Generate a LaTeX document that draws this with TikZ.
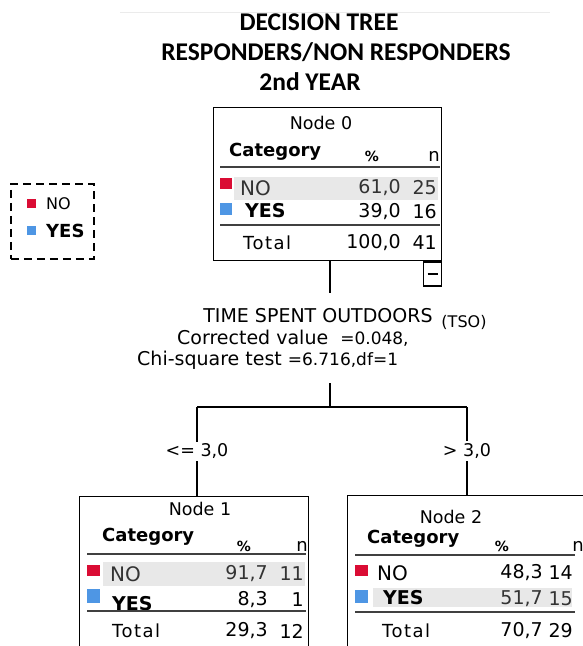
\documentclass[tikz,border=0pt]{standalone}
\usepackage{fontspec}
\setmainfont{DejaVu Sans}
\newfontfamily\titlefont{Carlito}
\definecolor{nored}{RGB}{218,12,52}
\definecolor{yesblue}{RGB}{78,150,228}
\definecolor{bandgray}{RGB}{232,232,232}
\tikzset{
  ttl/.style={font=\titlefont\bfseries\fontsize{25.5}{28}\selectfont, inner sep=0},
  tbox/.style={draw, line width=1.3pt, inner sep=0, anchor=north west},
  hdr/.style={font=\fontsize{17.5}{20}\selectfont, inner sep=0},
  nhdr/.style={font=\fontsize{18}{20}\selectfont, inner sep=0},
  cat/.style={font=\bfseries\fontsize{18}{21}\selectfont, anchor=west, inner sep=0},
  pct/.style={font=\bfseries\fontsize{14}{16}\selectfont, inner sep=0},
  cell/.style={font=\fontsize{19}{22}\selectfont, anchor=east, inner sep=0},
  lbl/.style={font=\fontsize{20}{23}\selectfont, anchor=west, inner sep=0},
  blbl/.style={font=\bfseries\fontsize{19}{22}\selectfont, anchor=west, inner sep=0},
  tot/.style={font=\addfontfeatures{LetterSpace=8}\fontsize{18}{21}\selectfont, anchor=west, inner sep=0},
  sep/.style={line width=2pt, black!75},
  band/.style={fill=bandgray},
  redsq/.style={fill=nored},
  bluesq/.style={fill=yesblue},
  conn/.style={line width=1.3pt},
  split/.style={font=\fontsize{19}{22}\selectfont, inner sep=0},
  cut/.style={font=\fontsize{17.5}{20}\selectfont, fill=white, inner sep=2pt},
}
\begin{document}
\begin{tikzpicture}[x=1pt,y=-1pt]
\useasboundingbox (0,0) rectangle (583,646);
\clip (0,0) rectangle (583,646);

% faint top rule
\draw[black!8, line width=1pt] (120,12) -- (550,12);

% title
\node[ttl] (t1) at (319,22) {DECISION TREE};
\node[ttl] (t2) at (336,52) {RESPONDERS/NON RESPONDERS};
\node[ttl] (t3) at (310,82) {2nd YEAR};

% legend
\node[draw, dashed, dash pattern=on 8pt off 5pt, line width=1.5pt, minimum width=83pt, minimum height=75pt, anchor=north west, inner sep=0] (leg) at (10,183) {};
\fill[redsq] (27,199) rectangle (36,208);
\node[lbl, font=\fontsize{16}{18}\selectfont] (legno) at (46,204) {NO};
\fill[bluesq] (27,226) rectangle (36,235);
\node[blbl, font=\bfseries\fontsize{18}{20}\selectfont] (legyes) at (46,231) {YES};

% ---------- Node 0 ----------
\fill[band] (234,177) rectangle (438,200);
\node[tbox, minimum width=228pt, minimum height=153pt] (n0) at (213,107) {};
\node[hdr] (n0t) at (321,123) {Node 0};
\node[cat] (n0c) at (229,152) {Category};
\node[pct] (n0p) at (372,156) {\%};
\node[nhdr] (n0n) at (434,156) {n};
\draw[sep] (220,167) -- (440,167);
\fill[redsq] (220,178) rectangle (232,189);
\node[lbl, text=black!80] (n0no) at (240,188) {NO};
\node[cell, text=black!80] (n0a1) at (401,188) {61,0};
\node[cell, text=black!80] (n0a2) at (437,188) {25};
\fill[bluesq] (220,203) rectangle (232,215);
\node[blbl] (n0yes) at (245,211) {YES};
\node[cell] (n0b1) at (401,212) {39,0};
\node[cell] (n0b2) at (437,212) {16};
\draw[sep] (220,225) -- (440,225);
\node[tot] (n0tot) at (243,243) {Total};
\node[cell] (n0c1) at (401,243) {100,0};
\node[cell] (n0c2) at (437,243) {41};
\node[draw, line width=1.3pt, minimum width=18pt, minimum height=24pt, anchor=north east, inner sep=0] (mb) at (n0.south east) {};
\draw[line width=1.5pt] ([xshift=-5pt]mb.center) -- ([xshift=5pt]mb.center);

% split text
\node[split] (sp1) at (318,316) {TIME SPENT OUTDOORS};
\node[font=\fontsize{16}{18}\selectfont, inner sep=0] (tso) at (464,322) {(TSO)};
\node[split, anchor=west] (sp2) at (177,338) {Corrected value\ \ {\fontsize{17}{20}\selectfont =0.048,}};
\node[split, anchor=west] (sp3) at (137,360) {Chi-square test {\fontsize{17}{20}\selectfont =6.716,df=1}};

% connectors
\coordinate (j0) at (330,260);
\coordinate (j1) at (330,293);
\coordinate (j2) at (330,383);
\coordinate (j3) at (330,407);
\coordinate (jl) at (197,407);
\coordinate (jr) at (467,407);

% ---------- Node 1 ----------
\fill[band] (103,562) rectangle (305,586);
\node[tbox, minimum width=229pt, minimum height=200pt] (n1) at (79,496) {};
\node[hdr] (n1t) at (200,509) {Node 1};
\node[cat] (n1c) at (102,537) {Category};
\node[pct] (n1p) at (244,546) {\%};
\node[nhdr] (n1n) at (302,546) {n};
\draw[sep] (87,554) -- (306,554);
\fill[redsq] (87,565) rectangle (100,576);
\node[lbl, text=black!80] (n1no) at (110,574) {NO};
\node[cell, text=black!80] (n1a1) at (268,574) {91,7};
\node[cell, text=black!80] (n1a2) at (304,574) {11};
\fill[bluesq] (87,589) rectangle (100,603);
\node[blbl] (n1yes) at (112,604) {YES};
\node[cell] (n1b1) at (268,600) {8,3};
\node[cell] (n1b2) at (304,600) {1};
\draw[sep] (87,611) -- (306,611);
\node[tot] (n1tot) at (112,631) {Total};
\node[cell] (n1c1) at (268,631) {29,3};
\node[cell] (n1c2) at (304,631) {12};

% ---------- Node 2 ----------
\fill[band] (373,588) rectangle (572,607);
\node[tbox, minimum width=260pt, minimum height=200pt] (n2) at (347,495) {};
\node[hdr] (n2t) at (451,517) {Node 2};
\node[cat] (n2c) at (367,539) {Category};
\node[pct] (n2p) at (502,546) {\%};
\node[nhdr] (n2n) at (578,546) {n};
\draw[sep] (355,555) -- (575,555);
\fill[redsq] (355,565) rectangle (368,576);
\node[lbl] (n2no) at (377,573) {NO};
\node[cell] (n2a1) at (543,573) {48,3};
\node[cell] (n2a2) at (573,573) {14};
\fill[bluesq] (355,590) rectangle (368,603);
\node[blbl] (n2yes) at (383,598) {YES};
\node[cell, text=black!80] (n2b1) at (543,599) {51,7};
\node[cell, text=black!80] (n2b2) at (573,599) {15};
\draw[sep] (355,612) -- (575,612);
\node[tot] (n2tot) at (382,631) {Total};
\node[cell] (n2c1) at (543,631) {70,7};
\node[cell] (n2c2) at (573,631) {29};

% tree lines
\draw[conn] (j0) -- (j1);
\draw[conn] (j2) -- (j3);
\draw[conn] (jl) -- (jr);
\draw[conn] (jl) -- node[cut] (lle) {<= 3,0} (n1.north -| jl);
\draw[conn] (jr) -- node[cut] (lgt) {> 3,0} (n2.north -| jr);
\end{tikzpicture}
\end{document}
